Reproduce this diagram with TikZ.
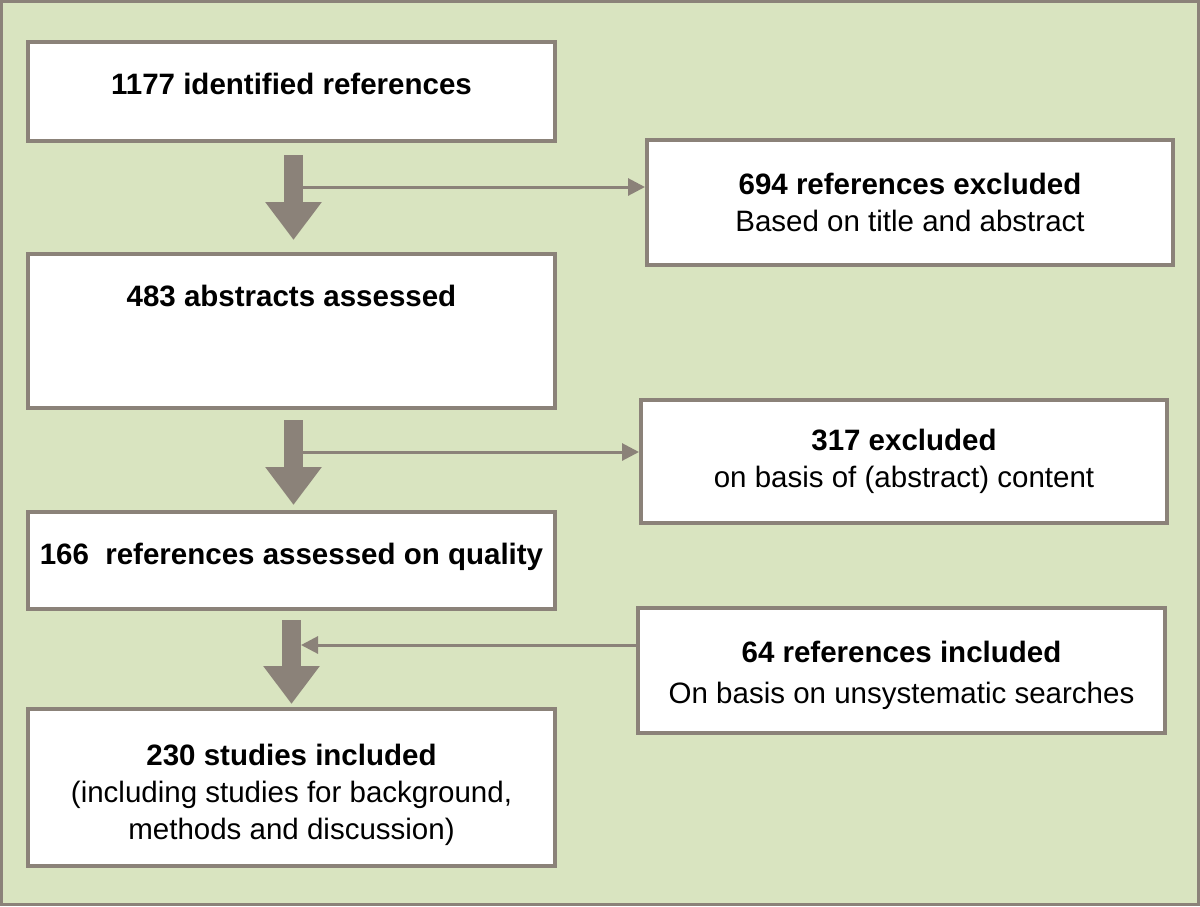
\documentclass[tikz,border=0pt]{standalone}
\usepackage{fontspec}
\setmainfont{Liberation Sans}
\usetikzlibrary{arrows.meta}

\begin{document}
\begin{tikzpicture}[x=0.5pt,y=-0.5pt]

\definecolor{bgcolor}{HTML}{D9E4C0}
\definecolor{gcolor}{HTML}{8B8279}

\tikzstyle{frame}=[line width=1.5pt, draw=gcolor, fill=bgcolor]
\tikzstyle{refbox}=[line width=2pt, draw=gcolor, fill=white, inner sep=0pt, align=center, font=\fontsize{14.75pt}{18.5pt}\selectfont, minimum width=263.5pt]
\tikzstyle{bigarrow}=[line width=9.5pt, color=gcolor, -{Triangle[length=19pt, width=27pt]}]
\tikzstyle{smallarrow}=[line width=1.5pt, color=gcolor, -{Triangle[length=8.5pt, width=8.5pt]}]

\useasboundingbox (0,0) rectangle (1200,906);
\draw[frame] (1.5,1.5) rectangle (1198.5,904.5);

% left column
\node[refbox, minimum height=49.5pt, text depth=7.5pt] (ident) at (291.5,91.5) {\textbf{1177 identified references}};
\node[refbox, minimum height=77pt, text depth=35pt] (abstr) at (291.5,331) {\textbf{483 abstracts assessed}};
\node[refbox, minimum height=48.5pt, text depth=6.5pt] (quality) at (291.5,560.5) {\textbf{166\ \ references assessed on quality}};
\node[refbox, minimum height=78.5pt] (studies) at (291.5,787.5) {\rule{0pt}{17.75pt}\textbf{230 studies included}\\(including studies for background,\\methods and discussion)};

% right column
\node[refbox, minimum width=263pt, minimum height=62.5pt] (excl1) at (910,202.5) {\textbf{694 references excluded}\\Based on title and abstract};
\node[refbox, minimum width=263pt, minimum height=61.5pt] (excl2) at (904,461.5) {\textbf{317 excluded}\\on basis of (abstract) content};
\node[refbox, minimum height=62.5pt] (incl) at (901.5,670.5) {\rule{0pt}{15.25pt}\textbf{64 references included}\\[2pt]On basis on unsystematic searches};

% main flow
\draw[bigarrow, shorten <=6pt, shorten >=6pt] ([xshift=1pt]ident.south) -- ([xshift=1pt]abstr.north);
\draw[bigarrow, shorten <=5pt, shorten >=2.5pt] ([xshift=1pt]abstr.south) -- ([xshift=1pt]quality.north);
\draw[bigarrow, shorten <=4.5pt, shorten >=1.5pt] (quality.south) -- (studies.north);

% side arrows
\coordinate (j1) at (303,187);
\coordinate (j2) at (303,452);
\coordinate (j3) at (301,645);
\draw[smallarrow] (j1) -- (j1 -| excl1.west);
\draw[smallarrow] (j2) -- (j2 -| excl2.west);
\draw[smallarrow] (j3 -| incl.west) -- (j3);

\end{tikzpicture}
\end{document}
